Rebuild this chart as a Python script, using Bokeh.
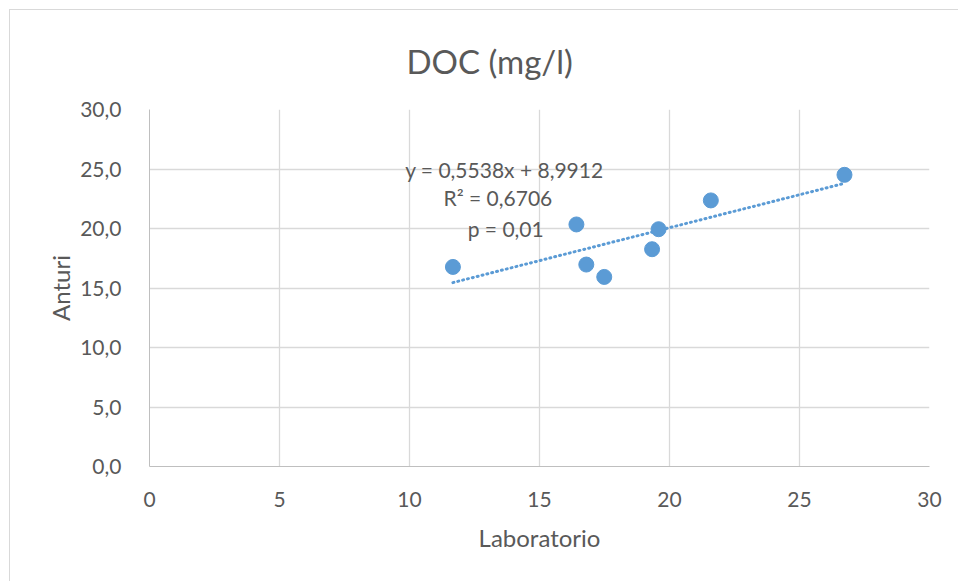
from bokeh.plotting import figure
from bokeh.models import Label, FixedTicker
from bokeh.embed import file_html
from bokeh.resources import INLINE

# Data
laboratorio = [11.67, 16.42, 16.80, 17.49, 19.33, 19.58, 21.59, 26.73]
anturi = [16.77, 20.34, 16.97, 15.93, 18.26, 19.94, 22.36, 24.51]
slope = 0.5538
intercept = 8.9912
eq_lines = ["y = 0,5538x + 8,9912", "R² = 0,6706", "p = 0,01"]
x_ticks = [0, 5, 10, 15, 20, 25, 30]
y_ticks = [0, 5, 10, 15, 20, 25, 30]
y_tick_labels = ["0,0", "5,0", "10,0", "15,0", "20,0", "25,0", "30,0"]
x_tick_labels = ["0", "5", "10", "15", "20", "25", "30"]

FONT = "Lato"
TXT = "#595959"
BLUE = "#5B9BD5"
GRID = "#D9D9D9"

p = figure(width=958, height=581, output_backend="svg", toolbar_location=None,
           x_range=(0, 30), y_range=(0, 30),
           min_border_left=149, min_border_right=29,
           min_border_top=109, min_border_bottom=115)
# light chart-area border (left and top edges), drawn behind a transparent canvas border
p.styles = {
    "background-color": "white",
    "background-image": "linear-gradient(#D9D9D9, #D9D9D9), linear-gradient(#D9D9D9, #D9D9D9)",
    "background-position": "9px 9px, 9px 9px",
    "background-size": "100% 1px, 1px 100%",
    "background-repeat": "no-repeat",
}
p.outline_line_color = None
p.background_fill_color = "white"
p.border_fill_color = None

p.title.text = "DOC (mg/l)"
p.title.align = "left"
p.title.offset = 257
p.title.vertical_align = "top"
p.title.text_font = FONT
p.title.text_font_size = "33px"
p.title.text_font_style = "normal"
p.title.text_color = TXT
try:
    p.title.standoff = 53
except Exception:
    pass

for ax in (p.xaxis[0], p.yaxis[0]):
    ax.major_tick_line_color = None
    ax.minor_tick_line_color = None
    ax.axis_line_color = "#BFBFBF"
    ax.major_label_text_color = TXT
    ax.major_label_text_font = FONT
    ax.major_label_text_font_size = "21px"
    ax.axis_label_text_color = TXT
    ax.axis_label_text_font = FONT
    ax.axis_label_text_font_size = "24px"
    ax.axis_label_text_font_style = "normal"

p.xaxis.ticker = FixedTicker(ticks=x_ticks)
p.yaxis.ticker = FixedTicker(ticks=y_ticks)
p.xaxis.major_label_overrides = {t: s for t, s in zip(x_ticks, x_tick_labels)}
p.yaxis.major_label_overrides = {t: s for t, s in zip(y_ticks, y_tick_labels)}
p.xaxis.axis_label = "Laboratorio"
p.yaxis.axis_label = "Anturi"
p.xaxis.major_label_standoff = 19
p.yaxis.major_label_standoff = 22
p.xaxis.axis_label_standoff = 13
p.yaxis.axis_label_standoff = 2

p.xgrid.ticker = FixedTicker(ticks=x_ticks)
p.ygrid.ticker = FixedTicker(ticks=y_ticks)
p.xgrid.grid_line_color = GRID
p.ygrid.grid_line_color = GRID
p.xgrid.grid_line_width = 1.3
p.ygrid.grid_line_width = 1.3

# Trend line (linear fit shown in reference), dotted
x0, x1 = min(laboratorio), max(laboratorio)
p.line([x0, x1], [slope * x0 + intercept, slope * x1 + intercept],
       line_color=BLUE, line_width=3, line_dash="1 4", line_cap="round")

p.scatter(laboratorio, anturi, size=15, fill_color=BLUE, line_color=BLUE)

# Equation labels
eq_pos = [(13.65, 24.99), (13.4, 22.63), (13.7, 20.03)]
for (lx, ly), t in zip(eq_pos, eq_lines):
    p.add_layout(Label(x=lx, y=ly, text=t, text_align="center", text_baseline="middle",
                       text_font=FONT, text_font_size="21px", text_color=TXT))

open("out.html", "w").write(file_html(p, INLINE))
